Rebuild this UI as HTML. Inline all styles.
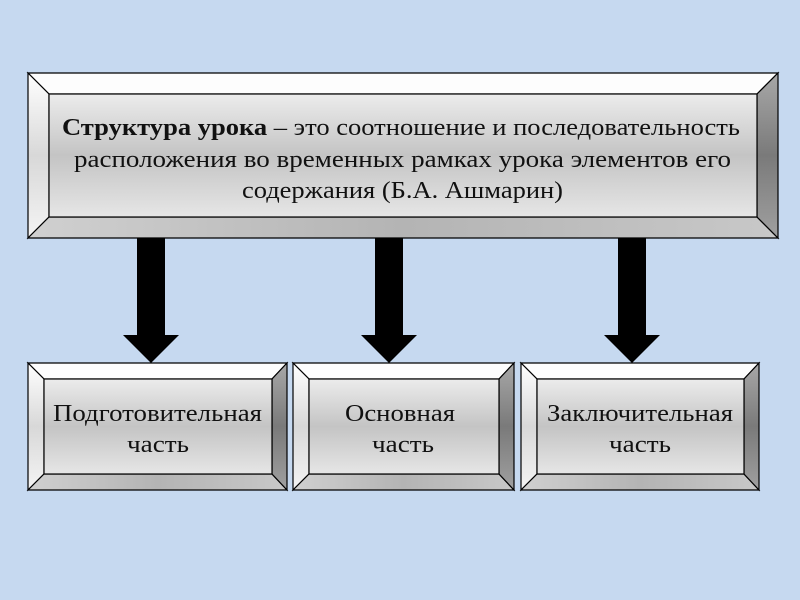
<!DOCTYPE html>
<html><head><meta charset="utf-8"><style>
html,body{margin:0;padding:0;background:#c6d9f0;}
svg{display:block}
text{font-family:"Liberation Serif",serif;fill:#111;}
</style></head><body>
<svg width="800" height="600" viewBox="0 0 800 600" xmlns="http://www.w3.org/2000/svg">
<defs>
<linearGradient id="face" x1="0" y1="0" x2="0" y2="1">
<stop offset="0" stop-color="#ececec"/><stop offset="0.5" stop-color="#c4c4c4"/><stop offset="1" stop-color="#e6e6e6"/>
</linearGradient>
<linearGradient id="lft" x1="0" y1="0" x2="0" y2="1">
<stop offset="0" stop-color="#ffffff"/><stop offset="0.5" stop-color="#d8d8d8"/><stop offset="1" stop-color="#f4f4f4"/>
</linearGradient>
<linearGradient id="rgt" x1="0" y1="0" x2="0" y2="1">
<stop offset="0" stop-color="#a8a8a8"/><stop offset="0.5" stop-color="#7a7a7a"/><stop offset="1" stop-color="#a0a0a0"/>
</linearGradient>
<linearGradient id="bot" x1="0" y1="0" x2="1" y2="0">
<stop offset="0" stop-color="#d0d0d0"/><stop offset="0.5" stop-color="#b4b4b4"/><stop offset="1" stop-color="#c8c8c8"/>
</linearGradient>
</defs>
<g stroke="#000" stroke-width="1.2">
<polygon points="28,73 778,73 757,94 49,94" fill="#fdfdfd"/>
<polygon points="28,73 49,94 49,217 28,238" fill="url(#lft)"/>
<polygon points="28,238 49,217 757,217 778,238" fill="url(#bot)"/>
<polygon points="778,73 778,238 757,217 757,94" fill="url(#rgt)"/>
<rect x="49" y="94" width="708" height="123" fill="url(#face)"/>
<polygon points="28,363 287,363 272,379 44,379" fill="#fdfdfd"/>
<polygon points="28,363 44,379 44,474 28,490" fill="url(#lft)"/>
<polygon points="28,490 44,474 272,474 287,490" fill="url(#bot)"/>
<polygon points="287,363 287,490 272,474 272,379" fill="url(#rgt)"/>
<rect x="44" y="379" width="228" height="95" fill="url(#face)"/>
<polygon points="293,363 514,363 499,379 309,379" fill="#fdfdfd"/>
<polygon points="293,363 309,379 309,474 293,490" fill="url(#lft)"/>
<polygon points="293,490 309,474 499,474 514,490" fill="url(#bot)"/>
<polygon points="514,363 514,490 499,474 499,379" fill="url(#rgt)"/>
<rect x="309" y="379" width="190" height="95" fill="url(#face)"/>
<polygon points="521,363 759,363 744,379 537,379" fill="#fdfdfd"/>
<polygon points="521,363 537,379 537,474 521,490" fill="url(#lft)"/>
<polygon points="521,490 537,474 744,474 759,490" fill="url(#bot)"/>
<polygon points="759,363 759,490 744,474 744,379" fill="url(#rgt)"/>
<rect x="537" y="379" width="207" height="95" fill="url(#face)"/>
</g>
<g fill="#000">
<polygon points="137,238 165,238 165,335 179,335 151,363 123,335 137,335"/>
<polygon points="375,238 403,238 403,335 417,335 389,363 361,335 375,335"/>
<polygon points="618,238 646,238 646,335 660,335 632,363 604,335 618,335"/>
</g>
<g font-size="24">
<text x="62" y="135" textLength="678" lengthAdjust="spacingAndGlyphs"><tspan font-weight="bold">Структура урока</tspan> – это соотношение и последовательность</text>
<text x="74" y="167" textLength="657" lengthAdjust="spacingAndGlyphs">расположения во временных  рамках урока элементов его</text>
<text x="242" y="198" textLength="321" lengthAdjust="spacingAndGlyphs">содержания (Б.А. Ашмарин)</text>
</g>
<g font-size="24">
<text x="53" y="421" textLength="209" lengthAdjust="spacingAndGlyphs">Подготовительная</text>
<text x="127" y="452" textLength="62" lengthAdjust="spacingAndGlyphs">часть</text>
<text x="345" y="421" textLength="110" lengthAdjust="spacingAndGlyphs">Основная</text>
<text x="372" y="452" textLength="62" lengthAdjust="spacingAndGlyphs">часть</text>
<text x="547" y="421" textLength="186" lengthAdjust="spacingAndGlyphs">Заключительная</text>
<text x="609" y="452" textLength="62" lengthAdjust="spacingAndGlyphs">часть</text>
</g>
</svg>
</body></html>
